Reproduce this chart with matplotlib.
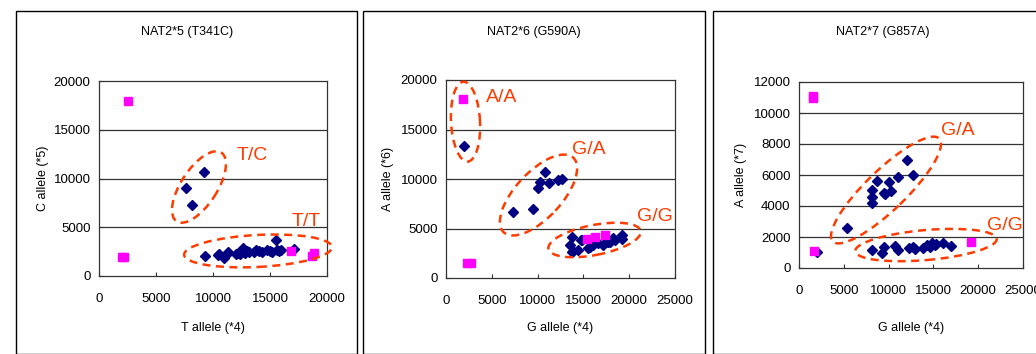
import matplotlib
matplotlib.use('Agg')
import matplotlib.pyplot as plt
from matplotlib.patches import Ellipse, Rectangle
from matplotlib.transforms import ScaledTranslation

plt.rcParams['font.family'] = ['Liberation Sans', 'DejaVu Sans']

# NAT2*5 (T341C)
x5_samples = [7600, 8200, 9200,
              9300, 10400, 10500, 11000, 11100, 11300, 12000, 12200, 12400, 12500,
              12600, 12700, 12800, 13000, 13200, 13600, 13800, 14000, 14300, 14700,
              15000, 15200, 15500, 15600, 15800, 16000, 17100]
y5_samples = [9000, 7300, 10700,
              2100, 2200, 2300, 1800, 2200, 2500, 2300, 2400, 2300, 2700,
              2900, 2500, 2400, 2600, 2500, 2500, 2700, 2600, 2500, 2700,
              2600, 2500, 3700, 2700, 2600, 2700, 2800]
x5_controls = [2500, 2000, 2200, 16800, 18700, 18900]
y5_controls = [18000, 2000, 2000, 2600, 2100, 2400]

# NAT2*6 (G590A)
x6_samples = [1970,
              7350, 9530, 10080, 10270, 10850, 11250, 12260, 12630,
              13540, 13720, 13720, 13900, 14450, 14740, 14810, 15540, 15720, 16000,
              16630, 17180, 17500, 17720, 17910, 18270, 18500, 19190, 19190]
y6_samples = [13330,
              6670, 6940, 9060, 9730, 10740, 9630, 9900, 10000,
              3330, 4170, 2660, 2700, 2830, 3840, 3800, 3000, 3160, 3300,
              3500, 3330, 3600, 3670, 3670, 4010, 3800, 4340, 3900]
x6_controls = [1890, 2300, 2700, 15360, 16300, 17400]
y6_controls = [18050, 1515, 1515, 3900, 4170, 4340]

# NAT2*7 (G857A)
x7_samples = [1970,
              5320, 8110, 8180, 8110, 8670, 9490, 9600, 10080, 10230, 11080, 12090, 12760,
              8110, 9300, 9490, 10710, 11010, 12310, 12760, 12900, 13800, 14250,
              14600, 14810, 15150, 15300, 16040, 16930]
y7_samples = [1050,
              2600, 5030, 4600, 4170, 5630, 4860, 4800, 5570, 5000, 5850, 6970, 5990,
              1160, 990, 1370, 1420, 1160, 1270, 1370, 1250, 1270, 1480,
              1380, 1630, 1480, 1580, 1590, 1440]
x7_controls = [1600, 1600, 1710, 19200]
y7_controls = [10980, 11100, 1120, 1660]

RED = '#FF3C00'
DPI = 100

fig = plt.figure(figsize=(10.36, 3.54), dpi=DPI)
W, H = 1036.0, 354.0

# panel frames
for x0, x1 in [(16, 357), (363, 705), (713, 1040)]:
    fig.patches.append(Rectangle((x0 / W, 0), (x1 - x0) / W, 1 - 11 / H,
                                 transform=fig.transFigure, fill=False,
                                 edgecolor='black', linewidth=1.0))


def ring(ax, cx, cy, w, h, angle):
    tr = fig.dpi_scale_trans + ScaledTranslation(cx, cy, ax.transData)
    e = Ellipse((0, 0), w / DPI, h / DPI, angle=angle, transform=tr,
                fill=False, edgecolor=RED, linewidth=1.8,
                linestyle=(0, (3.2, 2.2)), clip_on=False, zorder=5)
    ax.add_artist(e)


def panel(box, xmax, ymax, ystep, xs, ys, xc, yc, title, xlabel, ylabel, title_x, ylabel_x):
    left, right, top, bottom = box
    ax = fig.add_axes([left / W, 1 - bottom / H, (right - left) / W, (bottom - top) / H])
    ax.set_xlim(0, xmax)
    ax.set_ylim(0, ymax)
    ax.set_xticks(range(0, xmax + 1, 5000))
    ax.set_yticks(range(0, ymax + 1, ystep))
    for y in range(ystep, ymax, ystep):
        ax.axhline(y, color='#333333', linewidth=0.9, zorder=1)
    for s in ax.spines.values():
        s.set_color('#333333')
        s.set_linewidth(0.9)
    ax.tick_params(direction='in', length=3, labelsize=9.5, color='#333333')
    ax.tick_params(axis='x', pad=12)
    ax.tick_params(axis='y', pad=6)
    ax.plot(xs, ys, linestyle='none', marker='D', markersize=4.6,
            color='#000080', zorder=3, clip_on=False)
    ax.plot(xc, yc, linestyle='none', marker='s', markersize=5.6,
            color='#FF00FF', zorder=4, clip_on=False)
    h = bottom - top
    ax.set_xlabel(xlabel, fontsize=9)
    ax.xaxis.set_label_coords(0.5, (bottom - 322) / h)
    ax.set_ylabel(ylabel, fontsize=9)
    ax.yaxis.set_label_coords((ylabel_x - left) / (right - left), 0.5)
    fig.text(title_x / W, 1 - 32 / H, title, fontsize=9, ha='center', va='center')
    return ax


ax1 = panel((99, 327, 81, 276), 20000, 20000, 5000, x5_samples, y5_samples,
            x5_controls, y5_controls, 'NAT2*5 (T341C)', 'T allele (*4)', 'C allele (*5)', 187, 49)
ring(ax1, 8770, 9130, 82, 36, 57)
ring(ax1, 13950, 2570, 148, 32, 3)
ax1.text(13400, 12400, 'T/C', color=RED, fontsize=14, ha='center', va='center')
ax1.text(18150, 5540, 'T/T', color=RED, fontsize=14, ha='center', va='center')

ax2 = panel((446, 675, 80, 278), 25000, 20000, 5000, x6_samples, y6_samples,
            x6_controls, y6_controls, 'NAT2*6 (G590A)', 'G allele (*4)', 'A allele (*6)', 534, 394)
ring(ax2, 2130, 15790, 80, 29, 93)
ring(ax2, 10100, 8380, 102, 46, 47)
ring(ax2, 16220, 3840, 94, 30, 11)
ax2.text(6080, 18210, 'A/A', color=RED, fontsize=14, ha='center', va='center')
ax2.text(15540, 12930, 'G/A', color=RED, fontsize=14, ha='center', va='center')
ax2.text(22820, 6190, 'G/G', color=RED, fontsize=14, ha='center', va='center')

ax3 = panel((799, 1023, 82, 268), 25000, 12000, 2000, x7_samples, y7_samples,
            x7_controls, y7_controls, 'NAT2*7 (G857A)', 'G allele (*4)', 'A allele (*7)', 883, 747)
ring(ax3, 9710, 5030, 148, 40, 44)
ring(ax3, 14170, 1480, 142, 30, 5)
ax3.text(17780, 8860, 'G/A', color=RED, fontsize=14, ha='center', va='center')
ax3.text(22990, 2770, 'G/G', color=RED, fontsize=14, ha='center', va='center')

fig.savefig('out.png', dpi=DPI)
